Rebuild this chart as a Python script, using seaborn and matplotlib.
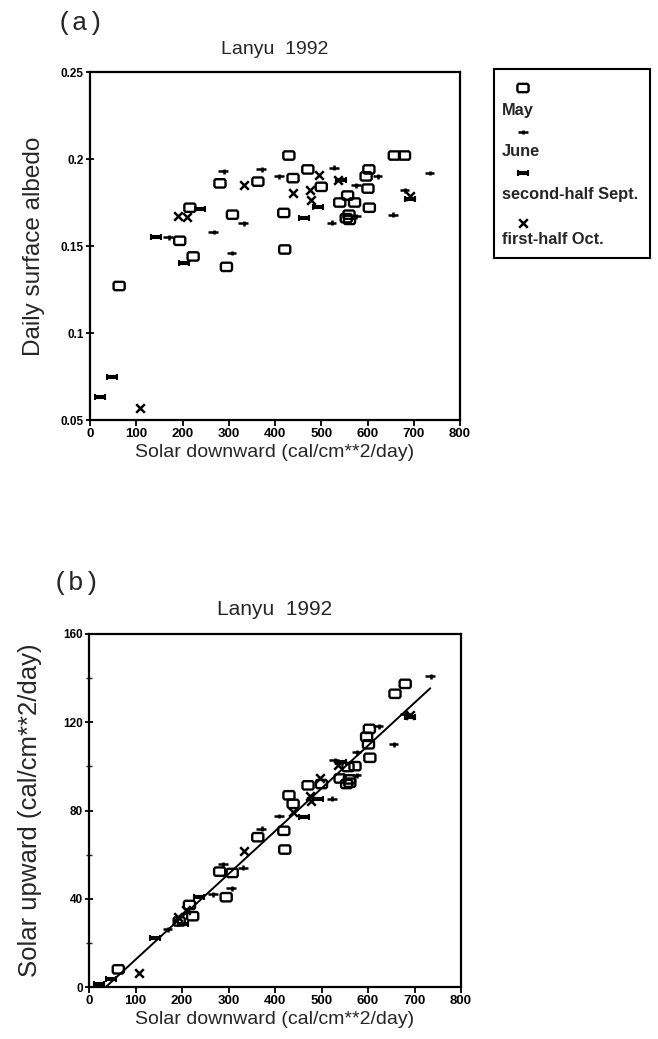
import numpy as np
import pandas as pd
import matplotlib
matplotlib.use("Agg")
import matplotlib.pyplot as plt
from matplotlib.path import Path
import seaborn as sns

# ---------------- data ----------------
groups = ["May", "June", "second-half Sept.", "first-half Oct."]

may_down = [63, 194, 216, 223, 281, 295, 308, 363, 419, 421, 430, 439, 471,
            500, 540, 554, 557, 560, 561, 572, 597, 601, 603, 604, 658, 680]
may_albedo = [0.127, 0.153, 0.172, 0.144, 0.186, 0.138, 0.168, 0.187, 0.169,
              0.148, 0.202, 0.189, 0.194, 0.184, 0.175, 0.166, 0.179, 0.168,
              0.165, 0.175, 0.190, 0.183, 0.194, 0.172, 0.202, 0.202]
may_up = [8.0, 29.7, 37.2, 32.1, 52.3, 40.7, 51.7, 67.9, 70.8, 62.3, 86.9,
          83.0, 91.4, 92.0, 94.5, 92.0, 99.7, 94.1, 92.6, 100.1, 113.4, 110.0,
          117.0, 103.9, 132.9, 137.4]

june_down = [169, 266, 288, 306, 331, 370, 408, 522, 527, 575, 575, 622,
             655, 680, 734]
june_albedo = [0.155, 0.158, 0.193, 0.146, 0.163, 0.194, 0.190, 0.1635,
               0.195, 0.167, 0.185, 0.190, 0.168, 0.182, 0.192]
june_up = [26.2, 42.0, 55.6, 44.7, 54.0, 71.8, 77.5, 85.3, 102.8, 96.0,
           106.4, 118.2, 110.0, 123.8, 140.9]

sept_down = [22, 48, 142, 203, 237, 463, 493, 543, 691]
sept_albedo = [0.063, 0.075, 0.155, 0.1405, 0.1715, 0.166, 0.1725, 0.188, 0.177]
sept_up = [1.4, 3.6, 22.0, 28.5, 40.6, 76.9, 85.0, 102.1, 122.3]

oct_down = [108, 191, 209, 333, 439, 475, 478, 496, 536, 691]
oct_albedo = [0.057, 0.167, 0.1665, 0.185, 0.1805, 0.182, 0.1765, 0.191,
              0.188, 0.1785]
oct_up = [6.2, 31.9, 34.8, 61.6, 79.2, 86.5, 84.4, 94.7, 100.8, 123.3]

x_ticks = [0, 100, 200, 300, 400, 500, 600, 700, 800]
a_yticks = [0.05, 0.1, 0.15, 0.2, 0.25]
a_yticklabels = ["0.05", "0.1", "0.15", "0.2", "0.25"]
b_yticks = [0, 40, 80, 120, 160]

frames = []
for g, d, al, up in [(groups[0], may_down, may_albedo, may_up),
                     (groups[1], june_down, june_albedo, june_up),
                     (groups[2], sept_down, sept_albedo, sept_up),
                     (groups[3], oct_down, oct_albedo, oct_up)]:
    frames.append(pd.DataFrame({"group": g, "down": d, "albedo": al, "up": up}))
df = pd.concat(frames, ignore_index=True)

# ---------------- styling ----------------
sns.set_theme(style="ticks")
plt.rcParams['font.family'] = ['Liberation Sans', 'DejaVu Sans']

# custom markers
box = Path([(-1.2, -0.6), (-0.95, -0.9), (0.95, -0.9), (1.2, -0.6), (1.2, 0.6),
            (0.95, 0.9), (-0.95, 0.9), (-1.2, 0.6), (-1.2, -0.6)],
           [Path.MOVETO] + [Path.LINETO] * 7 + [Path.CLOSEPOLY])
plus = Path([(-1, 0), (1, 0), (0.1, -0.5), (0.1, 0.5)],
            [Path.MOVETO, Path.LINETO, Path.MOVETO, Path.LINETO])
ibeam = Path([(-1, -0.3), (1, -0.3), (1, 0.3), (-1, 0.3), (-1, -0.3),
              (-1, -0.7), (-1, 0.7), (1, -0.7), (1, 0.7)],
             [Path.MOVETO, Path.LINETO, Path.LINETO, Path.LINETO, Path.CLOSEPOLY,
              Path.MOVETO, Path.LINETO, Path.MOVETO, Path.LINETO])

styles = {
    "May": dict(marker=box, s=64, facecolor="none", edgecolor="black", linewidth=1.7),
    "June": dict(marker=plus, s=48, facecolor="none", edgecolor="black", linewidth=1.8),
    "second-half Sept.": dict(marker=ibeam, s=44, facecolor="black", edgecolor="black", linewidth=1.5),
    "first-half Oct.": dict(marker="x", s=38, color="black", linewidth=1.8),
}

W, H = 658, 1039
fig = plt.figure(figsize=(W / 100, H / 100), dpi=100)
fig.patch.set_facecolor("white")


def rect(l, r, t, b):
    return [l / W, 1 - b / H, (r - l) / W, (b - t) / H]


ax_a = fig.add_axes(rect(90, 460, 72, 420))
ax_b = fig.add_axes(rect(89, 461, 634, 987))


def draw_points(ax, ycol):
    for g in groups:
        sub = df[df["group"] == g]
        kw = dict(styles[g])
        sns.scatterplot(data=sub, x="down", y=ycol, ax=ax, legend=False, **kw)


draw_points(ax_a, "albedo")
draw_points(ax_b, "up")
sns.regplot(data=df, x="down", y="up", ax=ax_b, scatter=False, ci=None,
            truncate=True, line_kws=dict(color="black", linewidth=1.4))

for ax in (ax_a, ax_b):
    ax.set_xlim(0, 800)
    ax.set_xticks(x_ticks)
    ax.set_xticklabels([str(t) for t in x_ticks], fontsize=9.5, fontweight="bold")
    for sp in ax.spines.values():
        sp.set_visible(True)
        sp.set_linewidth(1.6)
        sp.set_color("black")
    ax.tick_params(axis="x", direction="out", length=4, width=1.3, pad=1.5, colors="black")
    ax.tick_params(axis="y", direction="inout", length=6, width=1.3, pad=1.5, colors="black")
    ax.set_xlabel("Solar downward (cal/cm**2/day)", fontsize=14, labelpad=3)
    ax.set_facecolor("white")

ax_a.set_title("Lanyu  1992", fontsize=14, pad=13)
ax_b.set_title("Lanyu  1992", fontsize=15, pad=14)

ax_a.set_ylim(0.05, 0.25)
ax_a.set_yticks(a_yticks)
ax_a.set_yticklabels(a_yticklabels, fontsize=8.5, fontweight="bold")
ax_a.set_ylabel("Daily surface albedo", fontsize=17.5, labelpad=11)

ax_b.set_ylim(0, 160)
ax_b.set_yticks(b_yticks)
ax_b.set_yticks([20, 60, 100, 140], minor=True)
ax_b.set_yticklabels([str(t) for t in b_yticks], fontsize=8.5, fontweight="bold")
ax_b.tick_params(axis="y", which="minor", direction="inout", length=4, width=1.0)
ax_b.set_ylabel("Solar upward (cal/cm**2/day)", fontsize=18.5, labelpad=15)

fig.text(80 / W, 1 - 23 / H, "(a)", fontsize=19, family=["Liberation Mono", "DejaVu Sans Mono"],
         ha="center", va="center")
fig.text(76 / W, 1 - 583 / H, "(b)", fontsize=19, family=["Liberation Mono", "DejaVu Sans Mono"],
         ha="center", va="center")

# ---------------- legend box ----------------
lx0, lx1, ly0, ly1 = 494, 650, 69, 258
ax_l = fig.add_axes(rect(lx0, lx1, ly0, ly1))
ax_l.set_xlim(0, 1)
ax_l.set_ylim(0, 1)
ax_l.set_xticks([])
ax_l.set_yticks([])
for sp in ax_l.spines.values():
    sp.set_visible(True)
    sp.set_linewidth(1.5)
    sp.set_color("black")


def ly(py):
    return 1 - (py - ly0) / (ly1 - ly0)


def lx(px):
    return (px - lx0) / (lx1 - lx0)


marker_rows = [88, 132, 173, 223]
text_rows = [110, 152, 194, 240]
for g, mp, tp in zip(groups, marker_rows, text_rows):
    kw = dict(styles[g])
    ax_l.scatter([lx(523)], [ly(mp)], **kw)
    ax_l.text(lx(502), ly(tp), g, fontsize=11.8, fontweight="bold", ha="left", va="center")

fig.savefig("out.png", dpi=100, facecolor="white")
